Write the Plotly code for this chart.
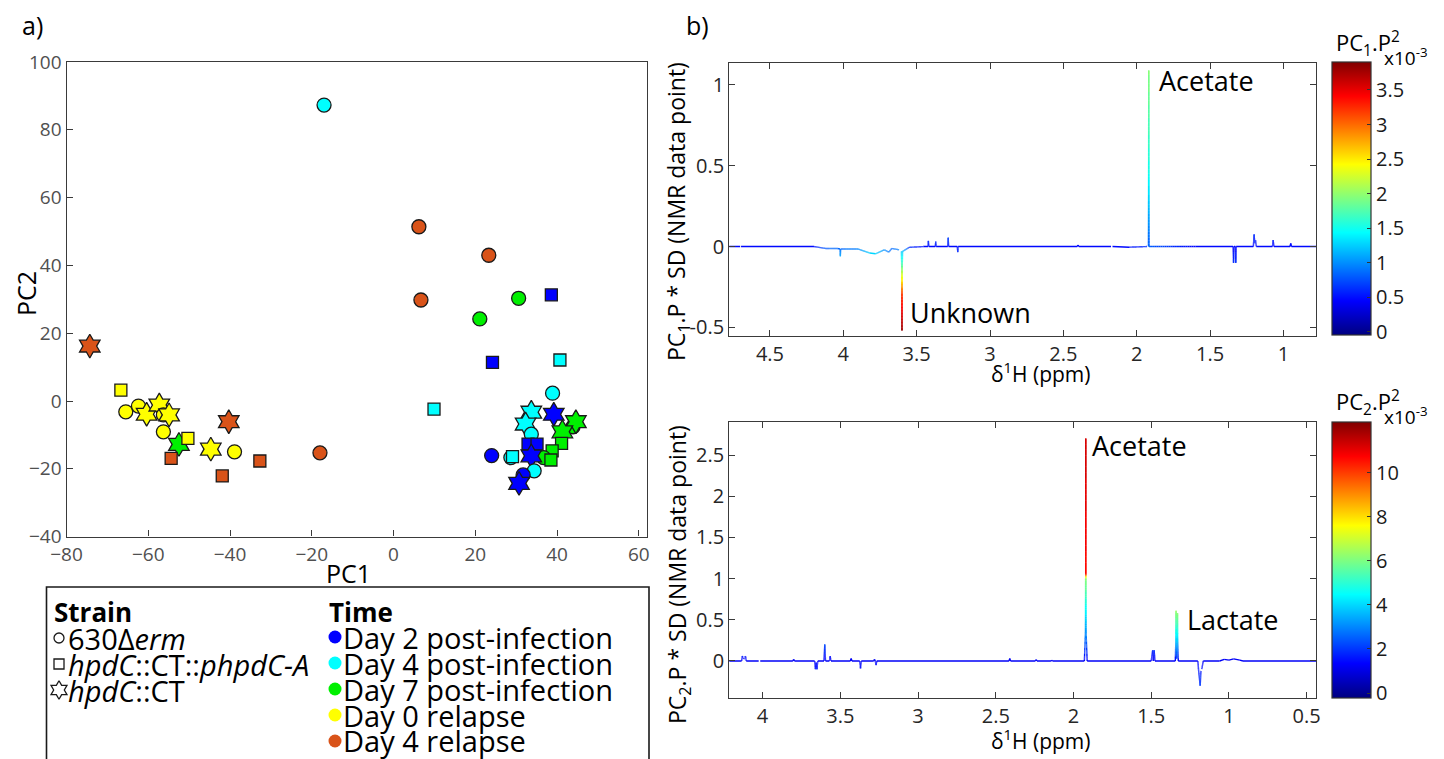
import plotly.graph_objects as go
from plotly.colors import sample_colorscale

W, H = 1444, 759          # target picture size
OFF = 8                   # page body margin in the browser
FW, FH = W - OFF, H - OFF  # figure size so that the page fits the window
FONT = "Open Sans"

# ---------------- Panel a: PCA scores ----------------
pc1 = [-74.3, -66.7, -65.5, -62.4, -60.4, -57.3, -56.3, -54.9, -56.3, -52.5,
       -50.3, -54.4, -44.7, -40.3, -38.9, -41.9, -32.7, -18.0, -17.0, 6.2,
       23.3, 6.7, 30.6, 21.1, 38.6, 24.2, 40.7, 9.9, 38.9, 33.7,
       39.2, 43.9, 44.6, 32.3, 41.3, 33.7, 41.1, 32.9, 35.1, 38.8,
       36.7, 38.5, 24.0, 28.7, 29.1, 33.7, 34.4, 31.7, 30.7]
pc2 = [16.2, 3.2, -3.2, -1.5, -3.9, -1.2, -4.1, -4.1, -9.1, -12.8,
       -11.0, -16.9, -14.2, -6.1, -15.0, -22.1, -17.7, -15.3, 87.3, 51.4,
       43.0, 29.8, 30.3, 24.2, 31.3, 11.4, 12.1, -2.4, 2.3, -3.3,
       -3.9, -7.6, -6.1, -6.8, -9.1, -9.8, -12.5, -12.7, -12.7, -14.7,
       -16.7, -17.4, -16.1, -16.7, -16.4, -16.2, -20.6, -21.8, -24.3]
strain = ['CT', 'A', 'WT', 'WT', 'CT', 'CT', 'WT', 'CT', 'WT', 'CT',
          'A', 'A', 'CT', 'CT', 'WT', 'A', 'A', 'WT', 'WT', 'WT',
          'WT', 'WT', 'WT', 'WT', 'A', 'A', 'A', 'A', 'WT', 'CT',
          'CT', 'WT', 'CT', 'CT', 'CT', 'WT', 'A', 'A', 'A', 'A',
          'WT', 'A', 'WT', 'WT', 'A', 'CT', 'WT', 'WT', 'CT']
timepoint = ['D4R', 'D0R', 'D0R', 'D0R', 'D0R', 'D0R', 'D0R', 'D0R', 'D0R', 'D7',
             'D0R', 'D4R', 'D0R', 'D4R', 'D0R', 'D4R', 'D4R', 'D4R', 'D4', 'D4R',
             'D4R', 'D4R', 'D7', 'D7', 'D2', 'D2', 'D4', 'D4', 'D4', 'D4',
             'D2', 'D7', 'D7', 'D4', 'D7', 'D4', 'D7', 'D2', 'D2', 'D7',
             'D7', 'D7', 'D2', 'D4', 'D4', 'D2', 'D4', 'D2', 'D2']

strain_keys = ['WT', 'A', 'CT']
strain_labels = ['630Δ<i>erm</i>', '<i>hpdC</i>::CT::<i>phpdC-A</i>', '<i>hpdC</i>::CT']
time_keys = ['D2', 'D4', 'D7', 'D0R', 'D4R']
time_labels = ['Day 2 post-infection', 'Day 4 post-infection', 'Day 7 post-infection',
               'Day 0 relapse', 'Day 4 relapse']

# ---------------- Panel b: loadings (ppm, loading*SD, P^2 x1e-3) ----------------
nmr1_ppm = [4.78, 4.703, 4.700, 4.697, 4.20, 4.12, 4.04, 4.022, 4.02, 4.018, 3.90,
            3.82, 3.78, 3.72, 3.69, 3.67, 3.62, 3.604, 3.602, 3.601, 3.600,
            3.599, 3.598, 3.596, 3.55, 3.45, 3.423, 3.42, 3.417, 3.373, 3.37, 3.367, 3.288, 3.285,
            3.282, 3.223, 3.22, 3.217, 2.405, 2.40, 2.395, 2.175, 2.17, 2.165, 2.05,
            1.93, 1.920, 1.919, 1.918, 1.917, 1.916, 1.60, 1.343, 1.340, 1.337,
            1.328, 1.325, 1.322, 1.205, 1.20, 1.195, 1.19, 1.185, 1.075, 1.07, 1.065,
            0.955, 0.95, 0.945, 0.77]
nmr1_val = [0.0, 0.0, 0.012, 0.0, 0.0, -0.012, -0.012, -0.015, -0.06, -0.015, -0.015,
            -0.04, -0.045, -0.02, -0.035, -0.012, -0.02, -0.03, -0.12, -0.30, -0.52,
            -0.30, -0.12, -0.03, -0.005, 0.0, 0.0, 0.035, 0.0, 0.0, 0.03, 0.0, 0.0, 0.055,
            0.0, 0.0, -0.035, 0.0, 0.0, 0.01, 0.0, 0.0, 0.012, 0.0, -0.004,
            0.0, 0.0, 0.45, 1.09, 0.45, 0.0, 0.0, 0.0, -0.10, 0.0,
            0.0, -0.10, 0.0, 0.0, 0.075, 0.02, 0.04, 0.0, 0.0, 0.04, 0.0,
            0.0, 0.02, 0.0, 0.0]
nmr1_p2 = [0.45, 0.45, 0.55, 0.45, 0.50, 0.80, 0.85, 0.85, 1.10, 0.85, 0.95,
           1.25, 1.25, 1.00, 0.90, 0.85, 0.95, 1.20, 1.80, 3.20, 3.80,
           3.20, 1.80, 1.20, 0.60, 0.50, 0.50, 0.60, 0.50, 0.50, 0.60, 0.50, 0.50, 0.70,
           0.50, 0.50, 0.60, 0.50, 0.45, 0.50, 0.45, 0.45, 0.55, 0.45, 0.50,
           0.60, 0.80, 1.50, 1.95, 1.50, 0.80, 0.45, 0.45, 0.60, 0.45,
           0.45, 0.60, 0.45, 0.45, 0.60, 0.50, 0.55, 0.45, 0.45, 0.55, 0.45,
           0.45, 0.50, 0.45, 0.45]

nmr2_ppm = [4.22, 4.135, 4.13, 4.12, 4.11, 4.105, 4.025, 4.02, 4.015, 3.805,
            3.80, 3.795, 3.665, 3.66, 3.655, 3.65, 3.645, 3.605, 3.60, 3.595,
            3.57, 3.565, 3.56, 3.435, 3.43, 3.425, 3.375, 3.37, 3.365, 3.285,
            3.28, 3.275, 3.27, 3.265, 2.415, 2.41, 2.405, 2.245, 2.24, 2.235,
            2.145, 2.14, 2.135, 1.93, 1.923, 1.922, 1.9215, 1.921, 1.9205, 1.920,
            1.919, 1.912, 1.50, 1.491, 1.486, 1.481, 1.476, 1.345, 1.341, 1.340,
            1.339, 1.336, 1.332, 1.331, 1.330, 1.326, 1.20, 1.195, 1.185, 1.18,
            1.175, 1.165, 1.06, 1.03, 1.00, 0.97, 0.93, 0.91, 0.43]
nmr2_val = [0.0, 0.0, 0.06, 0.02, 0.06, 0.0, 0.0, 0.03, 0.0, 0.0,
            0.02, 0.0, 0.0, -0.10, -0.02, -0.10, 0.0, 0.0, 0.20, 0.0,
            0.0, 0.06, 0.0, 0.0, 0.03, 0.0, 0.0, -0.09, 0.0, 0.0,
            0.02, 0.0, -0.05, 0.0, 0.0, 0.03, 0.0, 0.0, 0.015, 0.0,
            0.0, 0.01, 0.0, 0.0, 0.35, 1.0, 1.06, 2.70, 1.06, 1.0,
            0.35, 0.0, 0.0, 0.13, 0.0, 0.13, 0.0, 0.0, 0.30, 0.61,
            0.30, 0.03, 0.30, 0.58, 0.30, 0.0, 0.0, -0.12, -0.30, -0.12,
            -0.10, 0.0, 0.0, 0.02, 0.01, 0.025, 0.01, 0.0, 0.0]
nmr2_p2 = [1.2, 1.2, 1.6, 1.3, 1.6, 1.2, 1.2, 1.4, 1.2, 1.2,
           1.3, 1.2, 1.2, 1.6, 1.3, 1.6, 1.2, 1.2, 2.2, 1.2,
           1.2, 1.4, 1.2, 1.2, 1.3, 1.2, 1.2, 1.5, 1.2, 1.2,
           1.3, 1.2, 1.4, 1.2, 1.2, 1.3, 1.2, 1.2, 1.2, 1.2,
           1.2, 1.2, 1.2, 1.2, 3.2, 6.2, 10.6, 11.3, 10.6, 6.2,
           3.2, 1.2, 1.2, 1.8, 1.2, 1.8, 1.2, 1.2, 4.3, 6.3,
           4.3, 2.0, 4.3, 6.2, 4.3, 1.2, 1.2, 1.6, 2.0, 1.6,
           1.5, 1.2, 1.2, 1.3, 1.2, 1.3, 1.2, 1.2, 1.2]

cb1_ticks = [0, 0.5, 1, 1.5, 2, 2.5, 3, 3.5]
cb1_text = ['0', '0.5', '1', '1.5', '2', '2.5', '3', '3.5']
cb2_ticks = [0, 2, 4, 6, 8, 10]
cb2_text = ['0', '2', '4', '6', '8', '10']

# ---------------- styling ----------------
TIME_COLORS = {'D2': '#0000ff', 'D4': '#00ffff', 'D7': '#00f000', 'D0R': '#ffff00', 'D4R': '#d95319'}
SYMBOLS = {'WT': 'circle', 'A': 'square', 'CT': 'hexagram'}
SIZES = {'WT': 14, 'A': 12, 'CT': 18}
LEG_SYMBOLS = {'WT': 'circle-open', 'A': 'square-open', 'CT': 'hexagram-open'}
LEG_SIZES = {'WT': 10, 'A': 10, 'CT': 14}

JET = [[0.0, 'rgb(0,0,128)'], [0.125, 'rgb(0,0,255)'], [0.375, 'rgb(0,255,255)'],
       [0.625, 'rgb(255,255,0)'], [0.875, 'rgb(255,0,0)'], [1.0, 'rgb(128,0,0)']]
NLEV = 64
LEVEL_COLORS = sample_colorscale(JET, [(k + 0.5) / NLEV for k in range(NLEV)])


def px(x, y):
    """Reference-picture pixel -> paper fraction."""
    return (x - OFF) / FW, 1 - (y - OFF) / FH


def dom_x(a, b):
    return [(a - OFF) / FW, (b - OFF) / FW]


def dom_y(top, bottom):
    return [1 - (bottom - OFF) / FH, 1 - (top - OFF) / FH]


def colored_line(xs, ys, cs, cmin, cmax, xa, ya, width=1.4):
    bx = [[] for _ in range(NLEV)]
    by = [[] for _ in range(NLEV)]

    def lev(c):
        t = (c - cmin) / (cmax - cmin)
        return max(0, min(NLEV - 1, int(t * NLEV)))

    for i in range(len(xs) - 1):
        x0, x1, y0, y1, c0, c1 = xs[i], xs[i + 1], ys[i], ys[i + 1], cs[i], cs[i + 1]
        n = 1 if lev(c0) == lev(c1) else 24
        for s in range(n):
            a, b = s / n, (s + 1) / n
            k = lev(c0 + (c1 - c0) * (a + b) / 2)
            bx[k] += [x0 + (x1 - x0) * a, x0 + (x1 - x0) * b, None]
            by[k] += [y0 + (y1 - y0) * a, y0 + (y1 - y0) * b, None]
    out = []
    for k in range(NLEV):
        if bx[k]:
            out.append(go.Scatter(x=bx[k], y=by[k], mode='lines', xaxis=xa, yaxis=ya,
                                  line=dict(color=LEVEL_COLORS[k], width=width),
                                  hoverinfo='skip', showlegend=False))
    return out


fig = go.Figure()

# scatter (panel a)
fig.add_trace(go.Scatter(
    x=pc1, y=pc2, mode='markers', xaxis='x', yaxis='y', showlegend=False,
    marker=dict(symbol=[SYMBOLS[s] for s in strain],
                size=[SIZES[s] for s in strain],
                color=[TIME_COLORS[t] for t in timepoint], opacity=1,
                line=dict(color='#1a1a1a', width=1.3)),
    hovertemplate='PC1 %{x}<br>PC2 %{y}<extra></extra>'))

# spectra (panel b)
c1min, c1max = -0.05, 3.9
c2min, c2max = -0.24, 12.28
for tr in colored_line(nmr1_ppm, nmr1_val, nmr1_p2, c1min, c1max, 'x2', 'y2'):
    fig.add_trace(tr)
for tr in colored_line(nmr2_ppm, nmr2_val, nmr2_p2, c2min, c2max, 'x3', 'y3'):
    fig.add_trace(tr)


# colorbars
def cbar(top, bottom, vals, texts):
    return dict(x=(1332.3 - OFF) / FW, xanchor='left', y=1 - (top - OFF) / FH, yanchor='top',
                len=(bottom - top) / FH, thickness=39, outlinewidth=1.2, outlinecolor='#333333',
                ticks='inside', ticklen=4, tickcolor='#333333', tickvals=vals, ticktext=texts,
                tickfont=dict(family=FONT, size=20, color='#1a1a1a'), xpad=0, ypad=0)


fig.add_trace(go.Scatter(x=[2.5], y=[-10], mode='markers', xaxis='x2', yaxis='y2', showlegend=False,
                         hoverinfo='skip',
                         marker=dict(size=1, color=[1], colorscale=JET, cmin=c1min, cmax=c1max,
                                     showscale=True, colorbar=cbar(62.3, 335.7, cb1_ticks, cb1_text))))
fig.add_trace(go.Scatter(x=[2.5], y=[-10], mode='markers', xaxis='x3', yaxis='y3', showlegend=False,
                         hoverinfo='skip',
                         marker=dict(size=1, color=[1], colorscale=JET, cmin=c2min, cmax=c2max,
                                     showscale=True, colorbar=cbar(422.3, 698.3, cb2_ticks, cb2_text))))

# legend glyphs (overlay axes in reference pixels)
fig.add_trace(go.Scatter(
    x=[59, 59, 59], y=[638, 664, 690], mode='markers', xaxis='x4', yaxis='y4', showlegend=False,
    hoverinfo='skip',
    marker=dict(symbol=[LEG_SYMBOLS[k] for k in strain_keys], size=[LEG_SIZES[k] for k in strain_keys],
                color='#1a1a1a', opacity=1, line=dict(width=1.3))))
fig.add_trace(go.Scatter(
    x=[335] * 5, y=[637, 663, 689, 715, 741], mode='markers', xaxis='x4', yaxis='y4', showlegend=False,
    hoverinfo='skip',
    marker=dict(symbol='circle', size=13, color=[TIME_COLORS[k] for k in time_keys], opacity=1,
                line=dict(width=0))))

# ---------------- axes ----------------
sc_ax = dict(showline=True, linecolor='#3a3a3a', linewidth=1.3, mirror=True, ticks='inside', ticklen=6,
             tickcolor='#3a3a3a', showgrid=False, zeroline=False, automargin=False,
             tickfont=dict(family=FONT, size=19, color='#505050'))
nmr_ax = dict(showline=True, linecolor='#3a3a3a', linewidth=1.3, mirror='ticks', ticks='inside', ticklen=6,
              tickcolor='#3a3a3a', showgrid=False, zeroline=False, automargin=False,
              tickfont=dict(family=FONT, size=20, color='#262626'))

fig.update_layout(
    width=FW, height=FH, margin=dict(l=0, r=0, t=0, b=0, pad=0, autoexpand=False),
    paper_bgcolor='white', plot_bgcolor='rgba(0,0,0,0)', showlegend=False,
    font=dict(family=FONT, color='#000000'),
    xaxis=dict(domain=dom_x(66.5, 647), range=[-80, 62.0], tickvals=[-80, -60, -40, -20, 0, 20, 40, 60],
               anchor='y', **sc_ax),
    yaxis=dict(domain=dom_y(62, 536.6), range=[-40, 100],
               tickvals=[-40, -20, 0, 20, 40, 60, 80, 100], anchor='x', **sc_ax),
    xaxis2=dict(domain=dom_x(729.3, 1316), range=[4.777, 0.778], anchor='y2',
                tickvals=[4.5, 4, 3.5, 3, 2.5, 2, 1.5, 1], ticktext=['4.5', '4', '3.5', '3', '2.5', '2', '1.5', '1'],
                **nmr_ax),
    yaxis2=dict(domain=dom_y(62.7, 335.7), range=[-0.552, 1.138], anchor='x2',
                tickvals=[-0.5, 0, 0.5, 1], ticktext=['-0.5', '0', '0.5', '1'], **nmr_ax),
    xaxis3=dict(domain=dom_x(729.3, 1316), range=[4.214, 0.44], anchor='y3',
                tickvals=[4, 3.5, 3, 2.5, 2, 1.5, 1, 0.5], ticktext=['4', '3.5', '3', '2.5', '2', '1.5', '1', '0.5'],
                **nmr_ax),
    yaxis3=dict(domain=dom_y(422.3, 698.3), range=[-0.453, 2.897], anchor='x3',
                tickvals=[0, 0.5, 1, 1.5, 2, 2.5], ticktext=['0', '0.5', '1', '1.5', '2', '2.5'], **nmr_ax),
    xaxis4=dict(domain=[0, 1], range=[OFF, W], visible=False, fixedrange=True, anchor='y4'),
    yaxis4=dict(domain=[0, 1], range=[H, OFF], visible=False, fixedrange=True, anchor='x4'),
)

# ---------------- annotations ----------------
ann = []


def text_px(x, y, t, size, xanchor='center', angle=0, bold=False, color='#000000'):
    xp, yp = px(x, y)
    ann.append(dict(x=xp, y=yp, xref='paper', yref='paper', text=('<b>%s</b>' % t) if bold else t,
                    showarrow=False, xanchor=xanchor, yanchor='middle', textangle=angle,
                    font=dict(family=FONT, size=size, color=color)))


text_px(32, 25, 'a)', 25)
text_px(697, 25, 'b)', 25)
text_px(26, 294, 'PC2', 25, angle=-90)
text_px(348, 573, 'PC1', 25)
text_px(678, 212, 'PC<sub>1</sub>.P * SD (NMR data point)', 23, angle=-90)
text_px(678, 575, 'PC<sub>2</sub>.P * SD (NMR data point)', 23, angle=-90)
text_px(1040, 372, 'δ<sup>1</sup>H (ppm)', 21)
text_px(1040, 739, 'δ<sup>1</sup>H (ppm)', 21)
text_px(1334, 43, 'PC<sub>1</sub>.P<sup>2</sup>', 22, xanchor='left')
text_px(1382, 57, 'x10<sup>-3</sup>', 19, xanchor='left')
text_px(1334, 402, 'PC<sub>2</sub>.P<sup>2</sup>', 22, xanchor='left')
text_px(1382, 416, 'x10<sup>-3</sup>', 19, xanchor='left')

# legend
text_px(52, 612, 'Strain', 26, xanchor='left', bold=True)
for lbl, yy in zip(strain_labels, [638, 664, 690]):
    text_px(66, yy, lbl, 29, xanchor='left')
text_px(327, 612, 'Time', 26, xanchor='left', bold=True)
for lbl, yy in zip(time_labels, [637, 663, 689, 715, 740]):
    text_px(341, yy, lbl, 29, xanchor='left')

# peak labels (data coordinates)
for xa, ya, xv, yv, t in [('x2', 'y2', 1.862, 1.03, 'Acetate'), ('x2', 'y2', 3.559, -0.41, 'Unknown'),
                          ('x3', 'y3', 1.894, 2.62, 'Acetate'), ('x3', 'y3', 1.283, 0.50, 'Lactate')]:
    ann.append(dict(x=xv, y=yv, xref=xa, yref=ya, text=t, showarrow=False, xanchor='left', yanchor='middle',
                    font=dict(family=FONT, size=27, color='#000000')))

fig.update_layout(annotations=ann)

# legend frame
x0, y0 = px(46.5, 587)
x1, y1 = px(649, 790)
fig.add_shape(type='rect', xref='paper', yref='paper', x0=x0, x1=x1, y0=y1, y1=y0,
              line=dict(color='#1a1a1a', width=1.6), fillcolor='rgba(0,0,0,0)')

fig.write_html("out.html")
